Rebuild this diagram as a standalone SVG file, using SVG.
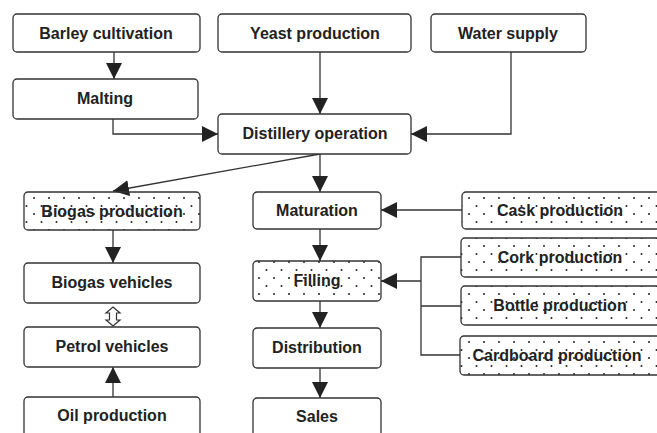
<svg xmlns="http://www.w3.org/2000/svg" width="657" height="433" viewBox="0 0 657 433">
<defs>
<pattern id="dots" width="15" height="16" patternUnits="userSpaceOnUse">
<circle cx="4" cy="6" r="1" fill="#222"/>
<circle cx="11.5" cy="14" r="1" fill="#222"/>
</pattern>
<marker id="ah" markerUnits="userSpaceOnUse" markerWidth="16" markerHeight="16" viewBox="0 0 16 16" refX="16" refY="8" orient="auto">
<path d="M0,0 L16,8 L0,16 Z" fill="#222"/>
</marker>
</defs>
<style>
.box{fill:#fff;stroke:#333;stroke-width:1.3}
.dot{fill:url(#dots);stroke:#333;stroke-width:1.3}
.t{font-family:"Liberation Sans",Arial,sans-serif;font-weight:bold;font-size:16px;fill:#222;text-anchor:middle}
.c{fill:none;stroke:#333;stroke-width:1.3}
</style>
<rect width="657" height="433" fill="#fff"/>
<g id="connectors">
<path class="c" d="M114,52 V79" marker-end="url(#ah)"/>
<path class="c" d="M320,52 V114" marker-end="url(#ah)"/>
<path class="c" d="M113,119 V134 H218" marker-end="url(#ah)"/>
<path class="c" d="M511,52 V134 H411" marker-end="url(#ah)"/>
<path class="c" d="M320,154 L113,191" marker-end="url(#ah)"/>
<path class="c" d="M320,154 V192" marker-end="url(#ah)"/>
<path class="c" d="M113,230 V263" marker-end="url(#ah)"/>
<path class="c" d="M113,397 V367" marker-end="url(#ah)"/>
<path class="c" d="M320,229 V261" marker-end="url(#ah)"/>
<path class="c" d="M320,301 V328" marker-end="url(#ah)"/>
<path class="c" d="M320,368 V398" marker-end="url(#ah)"/>
<path class="c" d="M462,210 H381" marker-end="url(#ah)"/>
<path class="c" d="M461,257 H421 V355 H460 M421,306 H461"/>
<path class="c" d="M421,281 H381" marker-end="url(#ah)"/>
<path d="M113,307 L120,313 H116.5 V320 H120 L113,326 L106,320 H109.5 V313 H106 Z" fill="#fff" stroke="#333" stroke-width="1.2"/>
</g>
<g id="barley"><rect class="box" x="13" y="14" width="187" height="38" rx="4"/><text class="t" x="106" y="39">Barley cultivation</text></g>
<g id="yeast"><rect class="box" x="218" y="14" width="193" height="38" rx="4"/><text class="t" x="315" y="39">Yeast production</text></g>
<g id="water"><rect class="box" x="431" y="14" width="155" height="38" rx="4"/><text class="t" x="508" y="39">Water supply</text></g>
<g id="malting"><rect class="box" x="13" y="79" width="185" height="40" rx="4"/><text class="t" x="105" y="104">Malting</text></g>
<g id="distillery"><rect class="box" x="218" y="114" width="193" height="40" rx="4"/><text class="t" x="315" y="139">Distillery operation</text></g>
<g id="biogasprod"><rect class="dot" x="24" y="192" width="176" height="38" rx="4"/><text class="t" x="112" y="217">Biogas production</text></g>
<g id="biogasveh"><rect class="box" x="24" y="263" width="176" height="40" rx="4"/><text class="t" x="112" y="288">Biogas vehicles</text></g>
<g id="petrolveh"><rect class="box" x="24" y="327" width="176" height="40" rx="4"/><text class="t" x="112" y="352">Petrol vehicles</text></g>
<g id="oil"><rect class="box" x="24" y="397" width="176" height="44" rx="4"/><text class="t" x="112" y="421">Oil production</text></g>
<g id="maturation"><rect class="box" x="253" y="192" width="128" height="37" rx="4"/><text class="t" x="317" y="216">Maturation</text></g>
<g id="filling"><rect class="dot" x="253" y="261" width="128" height="40" rx="4"/><text class="t" x="317" y="286">Filling</text></g>
<g id="distribution"><rect class="box" x="253" y="328" width="128" height="40" rx="4"/><text class="t" x="317" y="353">Distribution</text></g>
<g id="sales"><rect class="box" x="253" y="398" width="128" height="44" rx="4"/><text class="t" x="317" y="422">Sales</text></g>
<g id="cask"><rect class="dot" x="462" y="192" width="204" height="37" rx="4"/><text class="t" x="560" y="216">Cask production</text></g>
<g id="cork"><rect class="dot" x="461" y="238" width="205" height="39" rx="4"/><text class="t" x="560" y="263">Cork production</text></g>
<g id="bottle"><rect class="dot" x="461" y="286" width="205" height="39" rx="4"/><text class="t" x="560" y="311">Bottle production</text></g>
<g id="cardboard"><rect class="dot" x="460" y="336" width="206" height="39" rx="4"/><text class="t" x="557" y="361">Cardboard production</text></g>
</svg>
